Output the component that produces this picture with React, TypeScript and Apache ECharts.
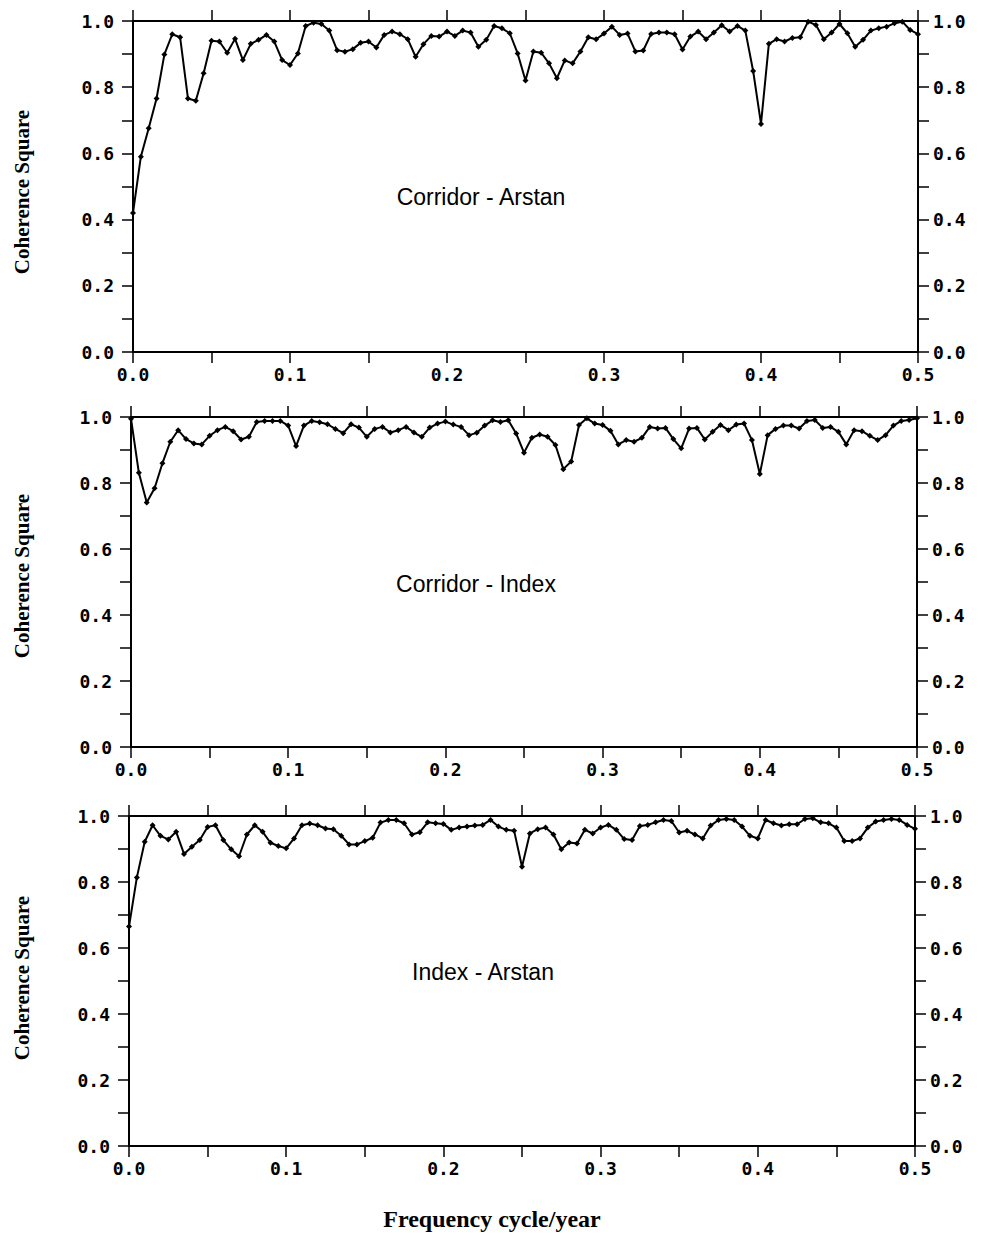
import React, { useEffect, useRef } from "react";
import * as echarts from "echarts";

// Frequency sampling grid (cycle/year), 0 to 0.5 step 0.005
const FREQ: number[] = Array.from({ length: 101 }, (_, i) => +(i * 0.005).toFixed(3));

const CORRIDOR_ARSTAN: number[] = [
  0.42, 0.59, 0.676, 0.766, 0.899, 0.96, 0.951, 0.766, 0.759, 0.842,
  0.94, 0.938, 0.904, 0.946, 0.882, 0.931, 0.943, 0.958, 0.938, 0.882,
  0.867, 0.902, 0.985, 0.995, 0.991, 0.971, 0.912, 0.907, 0.915, 0.934,
  0.938, 0.92, 0.958, 0.968, 0.96, 0.945, 0.892, 0.93, 0.955, 0.953,
  0.968, 0.955, 0.971, 0.965, 0.922, 0.943, 0.985, 0.978, 0.963, 0.902,
  0.82, 0.908, 0.904, 0.872, 0.827, 0.881, 0.872, 0.908, 0.951, 0.945,
  0.962, 0.983, 0.958, 0.962, 0.908, 0.911, 0.961, 0.965, 0.965, 0.96,
  0.914, 0.953, 0.968, 0.945, 0.965, 0.987, 0.968, 0.985, 0.971, 0.849,
  0.689, 0.931, 0.945, 0.938, 0.949, 0.951, 0.998, 0.988, 0.945, 0.965,
  0.991, 0.963, 0.922, 0.943, 0.971, 0.978, 0.983, 0.993, 0.998, 0.973,
  0.96,
];

const CORRIDOR_INDEX: number[] = [
  0.995, 0.831, 0.741, 0.784, 0.86, 0.925, 0.96, 0.933, 0.92, 0.917,
  0.943, 0.96, 0.97, 0.957, 0.932, 0.94, 0.985, 0.988, 0.988, 0.988,
  0.974, 0.912, 0.974, 0.988, 0.984, 0.978, 0.964, 0.951, 0.978, 0.968,
  0.94, 0.964, 0.97, 0.953, 0.96, 0.97, 0.953, 0.94, 0.968, 0.98,
  0.986, 0.977, 0.97, 0.945, 0.952, 0.974, 0.99, 0.985, 0.99, 0.95,
  0.892, 0.937, 0.947, 0.94, 0.915, 0.842, 0.865, 0.976, 0.996, 0.98,
  0.976, 0.958, 0.917, 0.93, 0.925, 0.937, 0.97, 0.965, 0.967, 0.933,
  0.905, 0.965, 0.967, 0.932, 0.955, 0.976, 0.96, 0.977, 0.98, 0.93,
  0.827, 0.945, 0.964, 0.974, 0.974, 0.965, 0.988, 0.991, 0.967, 0.97,
  0.955, 0.917, 0.96, 0.957, 0.943, 0.93, 0.945, 0.974, 0.988, 0.991,
  0.996,
];

const INDEX_ARSTAN: number[] = [
  0.665, 0.814, 0.922, 0.972, 0.94, 0.929, 0.952, 0.885, 0.907, 0.927,
  0.967, 0.972, 0.927, 0.899, 0.878, 0.944, 0.972, 0.952, 0.919, 0.909,
  0.902, 0.932, 0.972, 0.977, 0.972, 0.962, 0.96, 0.94, 0.914, 0.914,
  0.924, 0.934, 0.98, 0.988, 0.988, 0.978, 0.944, 0.951, 0.981, 0.978,
  0.976, 0.958, 0.965, 0.968, 0.971, 0.973, 0.988, 0.968, 0.958, 0.955,
  0.846, 0.947, 0.96, 0.965, 0.944, 0.899, 0.92, 0.917, 0.958, 0.947,
  0.965, 0.973, 0.958, 0.93, 0.927, 0.97, 0.973, 0.981, 0.988, 0.985,
  0.95, 0.955, 0.944, 0.932, 0.971, 0.988, 0.991, 0.988, 0.968, 0.94,
  0.932, 0.988, 0.978, 0.971, 0.975, 0.975, 0.991, 0.993, 0.981, 0.978,
  0.965, 0.924, 0.924, 0.932, 0.965, 0.983, 0.988, 0.991, 0.988, 0.973,
  0.961,
];

const PANEL_TITLES: string[] = ["Corridor - Arstan", "Corridor - Index", "Index - Arstan"];
const Y_TITLE = "Coherence Square";
const X_TITLE = "Frequency cycle/year";

const SERIES_DATA: number[][] = [CORRIDOR_ARSTAN, CORRIDOR_INDEX, INDEX_ARSTAN];

const GRIDS = [
  { left: 133, top: 21, width: 785, height: 331 },
  { left: 131, top: 417, width: 786, height: 330 },
  { left: 129, top: 816, width: 786, height: 330 },
];
const TITLE_POS = [
  { x: 481, y: 197 },
  { x: 476, y: 584 },
  { x: 483, y: 972 },
];
const YTITLE_POS = [
  { x: 22, y: 192 },
  { x: 22, y: 576 },
  { x: 22, y: 978 },
];

const TICK_FONT = {
  color: "#000",
  fontFamily: "DejaVu Sans Mono",
  fontWeight: "bold" as const,
  fontSize: 18,
};

export default function App() {
  const ref = useRef<HTMLDivElement>(null);
  useEffect(() => {
    if (!ref.current) return;
    const chart = echarts.init(ref.current, null, { renderer: "svg" });
    const lineStyle = { color: "#000", width: 2 };
    const tickStyle = { color: "#000", width: 1.5 };
    const xLabel = (v: number) => (Math.round(v * 20) % 2 === 0 ? v.toFixed(1) : "");
    const yLabel = (v: number) => (Math.round(v * 10) % 2 === 0 ? v.toFixed(1) : "");

    const xAxes: any[] = [];
    const yAxes: any[] = [];
    const series: any[] = [];
    const graphics: any[] = [];

    GRIDS.forEach((_, g) => {
      const baseX = {
        gridIndex: g,
        type: "value",
        min: 0,
        max: 0.5,
        interval: 0.05,
        splitLine: { show: false },
        axisLine: { onZero: false, lineStyle },
        axisTick: { length: 11, lineStyle: tickStyle },
      };
      xAxes.push({
        ...baseX,
        position: "bottom",
        axisLabel: { ...TICK_FONT, margin: 13, formatter: xLabel },
      });
      xAxes.push({ ...baseX, position: "top", axisLabel: { show: false } });
      const baseY = {
        gridIndex: g,
        type: "value",
        min: 0,
        max: 1,
        interval: 0.1,
        splitLine: { show: false },
        axisLine: { onZero: false, lineStyle },
        axisTick: { length: 11, lineStyle: tickStyle },
      };
      yAxes.push({
        ...baseY,
        position: "left",
        axisLabel: { ...TICK_FONT, margin: 19, formatter: yLabel },
      });
      yAxes.push({
        ...baseY,
        position: "right",
        axisLabel: { ...TICK_FONT, margin: 15, formatter: yLabel },
      });
      series.push({
        type: "line",
        xAxisIndex: 2 * g,
        yAxisIndex: 2 * g,
        data: FREQ.map((f, i) => [f, SERIES_DATA[g][i]]),
        symbol: "diamond",
        symbolSize: 6,
        showSymbol: true,
        lineStyle: { color: "#000", width: 2 },
        itemStyle: { color: "#000" },
        silent: true,
      });
      graphics.push({
        type: "text",
        x: TITLE_POS[g].x,
        y: TITLE_POS[g].y,
        style: {
          text: PANEL_TITLES[g],
          align: "center",
          verticalAlign: "middle",
          fill: "#000",
          font: "23px 'Liberation Sans', Arial, sans-serif",
        },
      });
      graphics.push({
        type: "text",
        x: YTITLE_POS[g].x,
        y: YTITLE_POS[g].y,
        rotation: Math.PI / 2,
        style: {
          text: Y_TITLE,
          align: "center",
          verticalAlign: "middle",
          fill: "#000",
          font: "bold 21px 'Liberation Serif', 'Times New Roman', serif",
        },
      });
    });

    graphics.push({
      type: "text",
      x: 492,
      y: 1219,
      style: {
        text: X_TITLE,
        align: "center",
        verticalAlign: "middle",
        fill: "#000",
        font: "bold 24px 'Liberation Serif', 'Times New Roman', serif",
      },
    });

    chart.setOption({
      animation: false,
      backgroundColor: "#fff",
      grid: GRIDS.map((g) => ({ ...g, containLabel: false })),
      xAxis: xAxes,
      yAxis: yAxes,
      series,
      graphic: graphics,
    });
    return () => chart.dispose();
  }, []);
  return (
    <div
      ref={ref}
      style={{ position: "absolute", left: 0, top: 0, width: 984, height: 1235 }}
    />
  );
}
